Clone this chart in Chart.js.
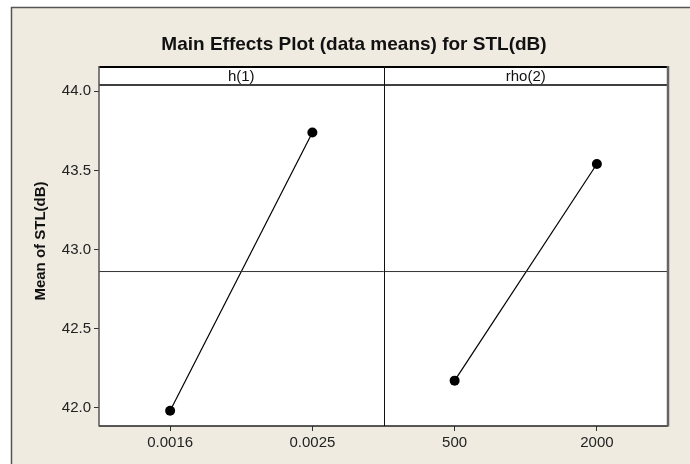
<!DOCTYPE html>
<html><head><meta charset="utf-8">
<script src="https://cdn.jsdelivr.net/npm/chart.js@4"></script>
<style>html,body{margin:0;padding:0;background:#fff}#wrap{width:690px;height:464px}</style>
</head><body><div id="wrap"><canvas id="c" width="690" height="464"></canvas></div>
<script>
const chartTitle = 'Main Effects Plot (data means) for STL(dB)';
const yAxisTitle = 'Mean of STL(dB)';
const factorNames = ['h(1)', 'rho(2)'];
const hLevels = ['0.0016', '0.0025'];
const hMeans = [41.98, 43.74];
const rhoLevels = ['500', '2000'];
const rhoMeans = [42.17, 43.54];
const grandMean = 42.86;
const yTicks = [42.0, 42.5, 43.0, 43.5, 44.0];

const FONT = '"Liberation Sans", Arial, sans-serif';
const BEIGE = '#EFEBE1';
const levelGroups = [hLevels, rhoLevels];
const meanGroups = [hMeans, rhoMeans];
// each factor occupies a panel of width 2 on a shared linear x scale
const allLevels = [];
const tickPos = [];
const datasets = [];
levelGroups.forEach((levels, p) => {
  const pts = levels.map((lab, i) => {
    allLevels.push(lab);
    tickPos.push(p * 2 + i + 0.5);
    return { x: p * 2 + i + 0.5, y: meanGroups[p][i] };
  });
  datasets.push({
    data: pts, showLine: true, borderColor: '#000', borderWidth: 1.2,
    pointRadius: 5, pointHoverRadius: 5, pointBackgroundColor: '#000', pointBorderColor: '#000', pointBorderWidth: 0
  });
});
datasets.unshift({
  data: [{ x: 0, y: grandMean }, { x: levelGroups.length * 2, y: grandMean }],
  showLine: true, borderColor: '#333', borderWidth: 1, pointRadius: 0
});

const deco = {
  id: 'deco',
  beforeDraw(chart) {
    const ctx = chart.ctx, a = chart.chartArea, W = chart.width, H = chart.height;
    ctx.save();
    ctx.fillStyle = '#fff';
    ctx.fillRect(0, 0, W, H);
    ctx.fillStyle = BEIGE;
    ctx.fillRect(12, 8, W - 12, H - 8);
    ctx.strokeStyle = '#555';
    ctx.lineWidth = 1.5;
    ctx.beginPath();
    ctx.moveTo(11.5, H); ctx.lineTo(11.5, 7.5); ctx.lineTo(W, 7.5);
    ctx.stroke();
    // title
    ctx.fillStyle = '#111';
    ctx.font = 'bold 19px ' + FONT;
    ctx.textAlign = 'center';
    ctx.textBaseline = 'alphabetic';
    ctx.fillText(chartTitle, 354, 49.5);
    // plot + header background
    ctx.fillStyle = '#fff';
    ctx.fillRect(a.left, a.top - 19, a.right - a.left, a.bottom - a.top + 19);
    // y axis title
    ctx.save();
    ctx.translate(41, 241);
    ctx.rotate(-Math.PI / 2);
    ctx.font = 'bold 15px ' + FONT;
    ctx.fillStyle = '#111';
    ctx.textBaseline = 'middle';
    ctx.fillText(yAxisTitle, 0, 0);
    ctx.restore();
    ctx.restore();
  },
  afterDraw(chart) {
    const ctx = chart.ctx, a = chart.chartArea, xs = chart.scales.x;
    const hTop = a.top - 19;
    ctx.save();
    // header strip
    ctx.strokeStyle = '#000';
    ctx.lineWidth = 2;
    ctx.beginPath(); ctx.moveTo(a.left, hTop + 1); ctx.lineTo(a.right, hTop + 1); ctx.stroke();
    ctx.lineWidth = 1.5;
    ctx.beginPath(); ctx.moveTo(a.left, a.top); ctx.lineTo(a.right, a.top); ctx.stroke();
    // bottom
    ctx.lineWidth = 1.5;
    ctx.strokeStyle = '#222';
    ctx.beginPath(); ctx.moveTo(a.left, a.bottom); ctx.lineTo(a.right, a.bottom); ctx.stroke();
    // left edge
    ctx.strokeStyle = '#555';
    ctx.lineWidth = 1.5;
    ctx.beginPath(); ctx.moveTo(a.left, hTop); ctx.lineTo(a.left, a.bottom + 0.5); ctx.stroke();
    // right edge
    ctx.strokeStyle = '#666';
    ctx.lineWidth = 2.5;
    ctx.beginPath(); ctx.moveTo(a.right, hTop); ctx.lineTo(a.right, a.bottom + 0.5); ctx.stroke();
    // dividers + factor labels
    ctx.strokeStyle = '#111';
    ctx.lineWidth = 1;
    ctx.font = '15px ' + FONT;
    ctx.fillStyle = '#111';
    ctx.textAlign = 'center';
    ctx.textBaseline = 'alphabetic';
    factorNames.forEach((name, p) => {
      const l = xs.getPixelForValue(p * 2), r = xs.getPixelForValue(p * 2 + 2);
      if (p > 0) {
        const x = Math.round(l) + 0.5;
        ctx.beginPath(); ctx.moveTo(x, hTop); ctx.lineTo(x, a.bottom); ctx.stroke();
      }
      ctx.fillText(name, (l + r) / 2, hTop + 15);
    });
    ctx.restore();
  }
};

new Chart(document.getElementById('c'), {
  type: 'scatter',
  data: { datasets },
  options: {
    responsive: false, animation: false, devicePixelRatio: 1,
    layout: { padding: { top: 85, right: 22, left: 0, bottom: 0 } },
    plugins: { legend: { display: false }, title: { display: false }, tooltip: { enabled: false } },
    scales: {
      x: {
        type: 'linear', min: 0, max: levelGroups.length * 2,
        afterBuildTicks: s => { s.ticks = tickPos.map(v => ({ value: v })); },
        afterFit: s => { s.height = 38; },
        ticks: { callback: (v, i) => allLevels[i], font: { family: FONT, size: 15 }, color: '#222', padding: 3, maxRotation: 0, autoSkip: false },
        grid: { drawOnChartArea: false, drawTicks: true, tickLength: 5, color: '#333' },
        border: { display: false }
      },
      y: {
        min: 41.883, max: 44.04,
        afterBuildTicks: s => { s.ticks = yTicks.map(v => ({ value: v })); },
        afterFit: s => { s.width = 99; },
        ticks: { callback: v => v.toFixed(1), font: { family: FONT, size: 15 }, color: '#222', padding: 3 },
        grid: { drawOnChartArea: false, drawTicks: true, tickLength: 5, color: '#333' },
        border: { display: false }
      }
    }
  },
  plugins: [deco]
});
</script></body></html>
